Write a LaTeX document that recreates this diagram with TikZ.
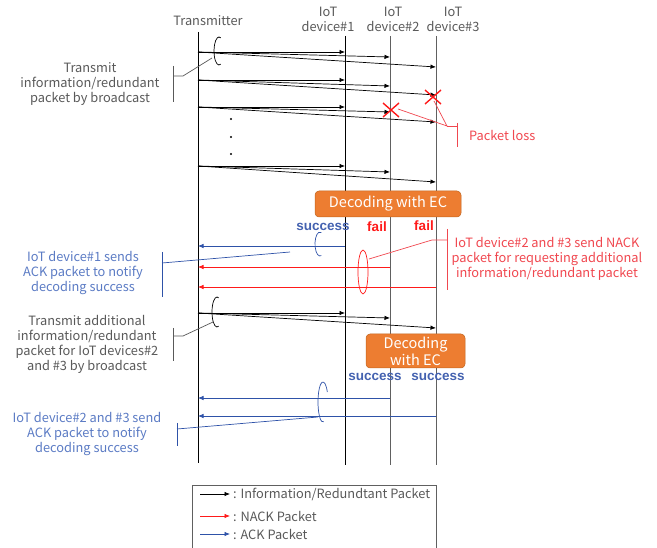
\documentclass[tikz,border=0pt]{standalone}
\usepackage{fontspec}
\setmainfont{Noto Sans CJK JP}
\newfontfamily\verdictfont{Liberation Sans}
\usetikzlibrary{arrows.meta}
\definecolor{txtgray}{HTML}{595959}
\definecolor{lifegray}{HTML}{606060}
\definecolor{pktred}{HTML}{FF1A1A}
\definecolor{notered}{HTML}{F0474F}
\definecolor{ackblue}{HTML}{2E52A8}
\definecolor{noteblue}{HTML}{5B7BC4}
\definecolor{okblue}{HTML}{4462B0}
\definecolor{ecorange}{HTML}{ED7D31}
\definecolor{ecedge}{HTML}{C0651F}

\begin{document}
\begin{tikzpicture}[x=1pt,y=-1pt,
  font=\fontsize{12.8}{15}\selectfont,
  pkt/.style={-{Latex[length=5.5pt,width=4.5pt]}, line width=0.7pt, black},
  nack/.style={-{Latex[length=5.5pt,width=4.5pt]}, line width=0.7pt, pktred},
  ack/.style={-{Latex[length=5.5pt,width=4.5pt]}, line width=0.7pt, ackblue},
  lifeline/.style={line width=0.9pt},
  lbl/.style={align=center, inner sep=0pt, text=txtgray},
  note/.style={align=center, inner sep=0pt},
  ecbox/.style={fill=ecorange, draw=ecedge, line width=0.5pt, rounded corners=4pt,
    text=white, align=center, inner sep=0pt, font=\fontsize{14.5}{17}\selectfont},
  verdict/.style={inner sep=0pt, font=\verdictfont\fontsize{13.5}{15}\selectfont\bfseries},
  lossmark/.style={pktred, line width=1.4pt},
  loop/.style={line width=0.7pt}
]
\useasboundingbox (0,0) rectangle (657,548);

% ---- lifelines ----
\coordinate (tx top) at (198,32);  \coordinate (tx bot) at (198,463);
\coordinate (d1 top) at (345,36);  \coordinate (d1 bot) at (345,465);
\coordinate (d2 top) at (390,36);  \coordinate (d2 bot) at (390,465);
\coordinate (d3 top) at (436,36);  \coordinate (d3 bot) at (436,465);
\draw[lifeline] (tx top) -- (tx bot);
\draw[lifeline] (d1 top) -- (d1 bot);
\draw[lifeline, lifegray] (d2 top) -- (d2 bot);
\draw[lifeline, lifegray] (d3 top) -- (d3 bot);

\node[lbl] (txlabel) at (208,21) {Transmitter};
\node[lbl] (d1label) at (328,19) {IoT\\device\#1};
\node[lbl] (d2label) at (393,19) {IoT\\device\#2};
\node[lbl] (d3label) at (453,19) {IoT\\device\#3};

% ---- broadcast packets ----
\foreach \s/\a/\b/\c [count=\i] in {52/52/57/67, 80/80/86/95, 107/107/112/122,
                                     166/166/172/182, 313/313/318/328} {
  \coordinate (g\i s) at (198,\s);
  \coordinate (g\i a) at (345,\a);
  \coordinate (g\i b) at (390,\b);
  \coordinate (g\i c) at (436,\c);
  \draw[pkt] (g\i s) -- (g\i a);
  \draw[pkt] (g\i s) -- (g\i b);
  \draw[pkt] (g\i s) -- (g\i c);
}
\foreach \y in {119,137,154} \fill (231,\y) circle[radius=1.2];

% ---- packet loss marks ----
\coordinate (lossA) at (433,97);
\coordinate (lossB) at (391,110);
\draw[lossmark] (lossA) ++(-8,-7) -- ++(16,14) ++(0,-14) -- ++(-16,14);
\draw[lossmark] (lossB) ++(-8,-7) -- ++(16,14) ++(0,-14) -- ++(-16,14);

% ---- first broadcast note ----
\draw[loop] (219,51) ++(70:5 and 14) arc[start angle=70,end angle=290,x radius=5,y radius=14];
\coordinate (b1 join) at (183,76);
\draw[txtgray, line width=0.7pt] (212,58) -- (b1 join) -- (173,76);
\draw[txtgray, line width=0.9pt] (173,66) -- (173,102);
\node[lbl] (b1text) at (90,84) {Transmit\\information/redundant\\packet by broadcast};

% ---- packet loss note ----
\coordinate (pl join) at (447,126);
\draw[notered, line width=0.7pt] (434,101) -- (pl join) -- (398,109);
\draw[notered, line width=0.7pt] (pl join) -- (457,126);
\draw[notered, line width=0.9pt] (457,123) -- (457,147);
\node[note, text=notered, anchor=west] (pltext) at (469,135) {Packet loss};

% ---- first decoding ----
\node[ecbox, minimum width=146pt, minimum height=26pt] (ec1) at (388,204) {Decoding with EC};
\node[verdict, text=okblue] (ok1) at (323,227) {success};
\node[verdict, text=pktred] (fail2) at (377,227) {fail};
\node[verdict, text=pktred] (fail3) at (424,226) {fail};

% ACK from device#1
\coordinate (ack1 s) at (345,246); \coordinate (ack1 e) at (198,246);
\draw[ack] (ack1 s) -- (ack1 e);
\draw[ackblue, loop] (320,244) ++(75:5 and 12) arc[start angle=75,end angle=285,x radius=5,y radius=12];
\coordinate (a1 join) at (162,263);
\draw[ackblue, line width=0.7pt] (290,252) -- (a1 join);
\draw[ackblue, line width=0.9pt] (162,252) -- (162,297);
\node[note, text=noteblue] (a1text) at (83,273) {IoT device\#1 sends\\ACK packet to notify\\decoding success};

% NACK from device#2 and #3
\coordinate (nk2 s) at (390,267); \coordinate (nk2 e) at (198,267);
\coordinate (nk3 s) at (436,287); \coordinate (nk3 e) at (198,287);
\draw[nack] (nk2 s) -- (nk2 e);
\draw[nack] (nk3 s) -- (nk3 e);
\draw[pktred, loop] (363,272) ellipse[x radius=5, y radius=22];
\coordinate (nk join) at (432,240);
\draw[notered, line width=0.7pt] (369,259) -- (nk join) -- (447,240);
\draw[notered, line width=0.9pt] (447,229) -- (447,290);
\node[note, text=notered] (nktext) at (547,259) {IoT device\#2 and \#3 send NACK\\packet for requesting additional\\information/redundant packet};

% ---- second broadcast note ----
\draw[loop] (217,312) ++(70:5 and 15) arc[start angle=70,end angle=290,x radius=5,y radius=15];
\coordinate (b2 join) at (183,336);
\draw[txtgray, line width=0.7pt] (213,322) -- (b2 join) -- (173,336);
\draw[txtgray, line width=0.9pt] (173,328) -- (173,361);
\node[lbl] (b2text) at (87,344) {Transmit additional\\information/redundant\\packet for IoT devices\#2\\and \#3 by broadcast};

% ---- second decoding ----
\node[ecbox, minimum width=99pt, minimum height=34pt] (ec2) at (415.5,351) {Decoding\\with EC};
\node[verdict, text=okblue] (ok2) at (375,377) {success};
\node[verdict, text=okblue] (ok3) at (438,377) {success};

% ACK from device#2 and #3
\coordinate (ack2 s) at (390,398); \coordinate (ack2 e) at (198,398);
\coordinate (ack3 s) at (436,416); \coordinate (ack3 e) at (198,416);
\draw[ack] (ack2 s) -- (ack2 e);
\draw[ack] (ack3 s) -- (ack3 e);
\draw[ackblue, loop] (323,402) ++(80:5 and 20) arc[start angle=80,end angle=330,x radius=5,y radius=20];
\coordinate (a2 join) at (177,429);
\draw[ackblue, line width=0.7pt] (318,417) -- (a2 join);
\draw[ackblue, line width=0.9pt] (177,423) -- (177,446);
\node[note, text=noteblue] (a2text) at (87,434) {IoT device\#2 and \#3 send\\ACK packet to notify\\decoding success};

% ---- legend ----
\draw[lifegray, line width=0.8pt] (192,552) -- (192,485) -- (436,485) -- (436,552);
\coordinate (lg1 s) at (200,494); \coordinate (lg1 e) at (230,494);
\coordinate (lg2 s) at (200,516); \coordinate (lg2 e) at (230,516);
\coordinate (lg3 s) at (200,534); \coordinate (lg3 e) at (230,534);
\draw[pkt] (lg1 s) -- (lg1 e);
\draw[nack] (lg2 s) -- (lg2 e);
\draw[ack] (lg3 s) -- (lg3 e);
\node[lbl, anchor=west] (lg1 t) at (233,494) {: Information/Redundtant Packet};
\node[lbl, anchor=west] (lg2 t) at (233,516) {: NACK Packet};
\node[lbl, anchor=west] (lg3 t) at (233,534) {: ACK Packet};
\end{tikzpicture}
\end{document}
